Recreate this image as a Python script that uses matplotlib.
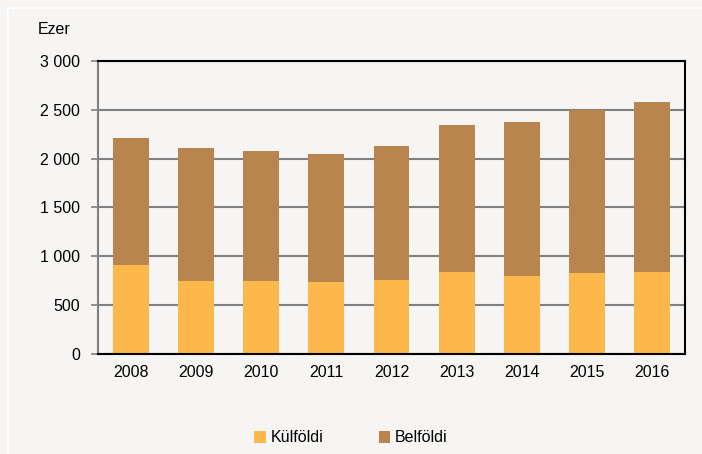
import numpy as np
import matplotlib.pyplot as plt
import matplotlib
from matplotlib.lines import Line2D

matplotlib.rcParams.update({
    'font.family': ['Liberation Sans', 'DejaVu Sans'],
    'font.size': 11.5,
})

years = ['2008', '2009', '2010', '2011', '2012', '2013', '2014', '2015', '2016']
kulfoldi = [911, 750, 747, 734, 758, 843, 799, 833, 836]
belfoldi = [1301, 1356, 1331, 1310, 1368, 1498, 1580, 1669, 1741]

bg = '#f6f5f3'
c_kul = '#fdb84b'
c_bel = '#b8854f'

fig = plt.figure(figsize=(7.02, 4.54), dpi=100, facecolor=bg)

# thin white frame around the panel (left and top edges visible)
fig.add_artist(Line2D([8 / 702, 8 / 702], [0, 1 - 8 / 454], color='white',
                      linewidth=1.5, transform=fig.transFigure))
fig.add_artist(Line2D([8 / 702, 1], [1 - 8 / 454, 1 - 8 / 454], color='white',
                      linewidth=1.5, transform=fig.transFigure))

ax = fig.add_axes([98 / 702, 1 - 354 / 454, 587 / 702, 293 / 454])
ax.set_facecolor(bg)

x = np.arange(len(years))
ax.bar(x, kulfoldi, width=0.55, color=c_kul, label='Külföldi', zorder=3)
ax.bar(x, belfoldi, width=0.55, bottom=kulfoldi, color=c_bel, label='Belföldi', zorder=3)

ax.set_xlim(-0.5, len(years) - 0.5)
ax.set_ylim(0, 3000)
ax.set_yticks(np.arange(0, 3001, 500))
ax.set_yticklabels([f'{v:,}'.replace(',', ' ') for v in range(0, 3001, 500)])
ax.set_xticks(x)
ax.set_xticklabels(years)

ax.grid(True, axis='y', color='#808080', linewidth=1.5, zorder=0)
ax.tick_params(axis='y', length=5, width=1.2, color='#808080', pad=8)
ax.tick_params(axis='x', length=0, pad=8)

ax.spines['left'].set_color('#808080')
ax.spines['left'].set_linewidth(1.5)
for side in ['top', 'right', 'bottom']:
    ax.spines[side].set_color('black')
    ax.spines[side].set_linewidth(1.5)
ax.spines['bottom'].set_zorder(4)

fig.text(38 / 702, 1 - 30 / 454, 'Ezer', ha='left', va='center', fontsize=11.5)

fig.legend(loc='center', bbox_to_anchor=(0.5, 1 - 438 / 454), ncol=2,
           frameon=False, handlelength=0.7, handleheight=0.7,
           handletextpad=0.3, columnspacing=3.5, fontsize=11.5)

plt.savefig('out.png', dpi=100, facecolor=bg)
